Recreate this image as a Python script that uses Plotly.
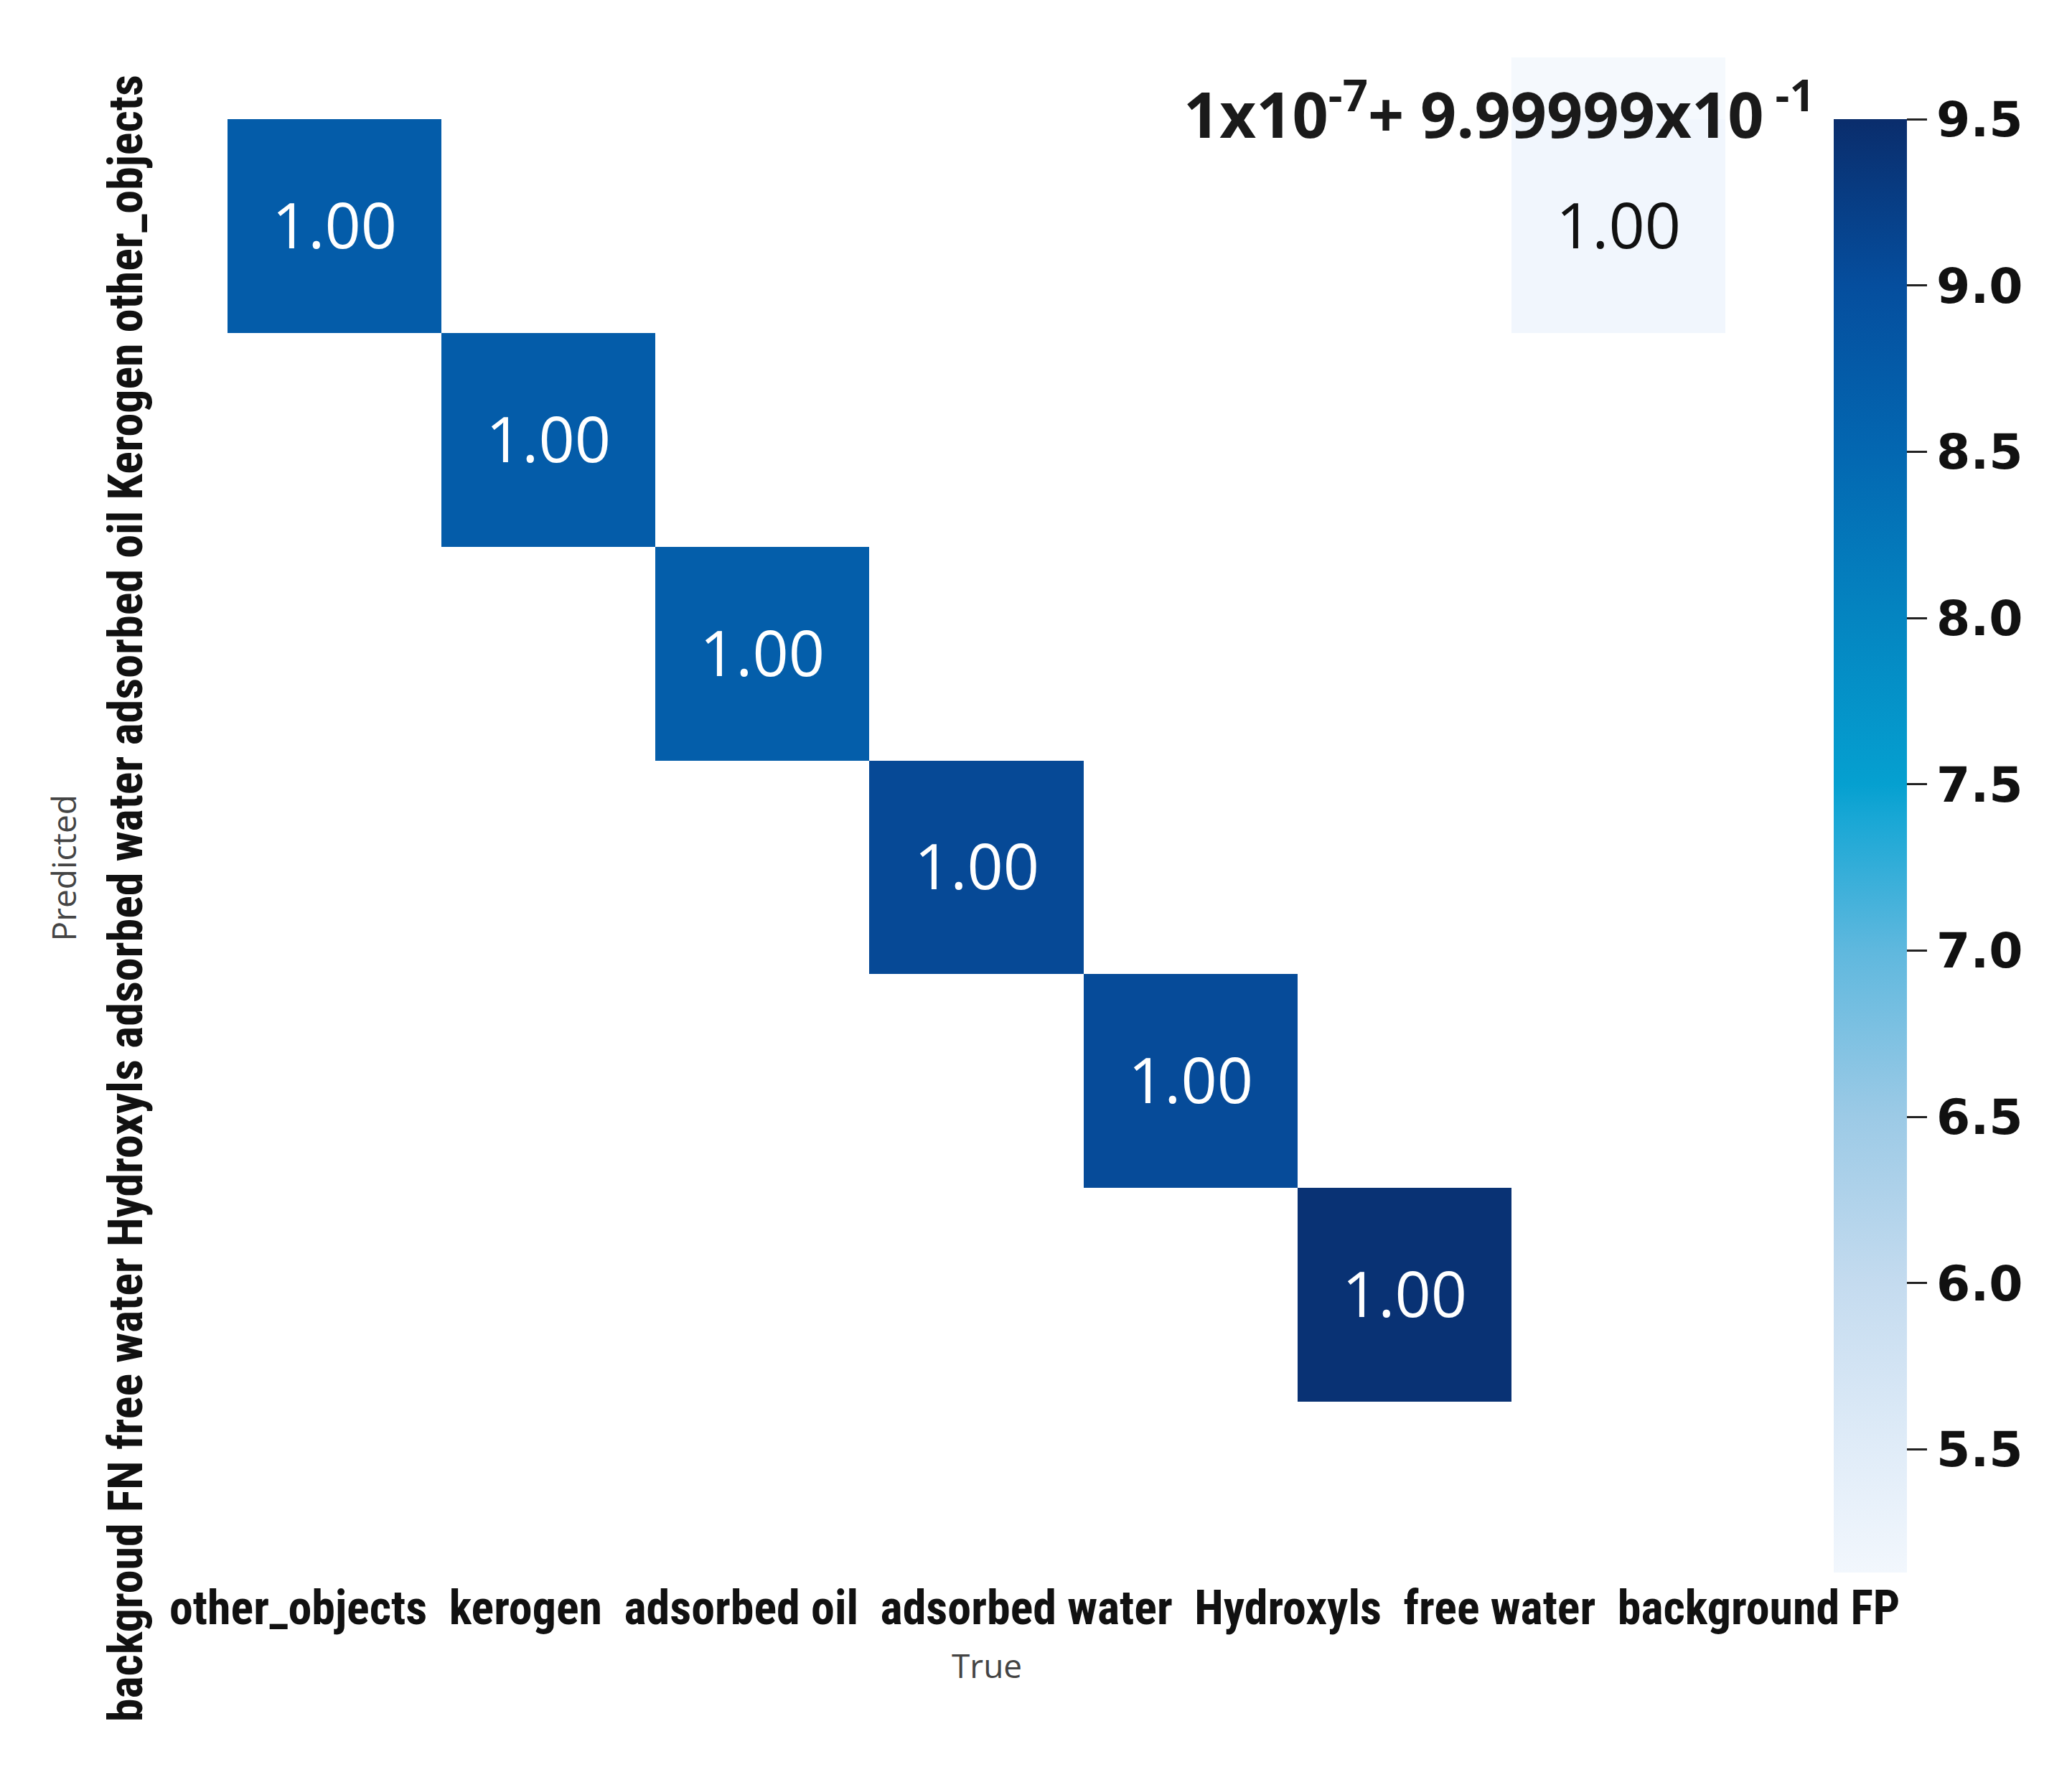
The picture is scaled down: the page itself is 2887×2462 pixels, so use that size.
#
# Confusion matrix heatmap (Predicted vs True)
#

import plotly.graph_objects as go

x_labels = ["other_objects", "kerogen", "adsorbed oil", "adsorbed water",
            "Hydroxyls", "free water", "background FP"]
y_labels = ["other_objects", "Kerogen", "adsorbed oil", "adsorbed water",
            "Hydroxyls", "free water", "backgroud FN"]

# colour value of each diagonal cell and the FP cell
diag_values = [8.72, 8.72, 8.68, 9.08, 9.05, 9.42]
fp_value = 5.15
cell_text = "1.00"

cbar_ticks = [5.5, 6.0, 6.5, 7.0, 7.5, 8.0, 8.5, 9.0, 9.5]
cbar_min, cbar_max = 5.13, 9.5

n = len(x_labels)
z_diag = [[None] * n for _ in range(n)]
t_diag = [[""] * n for _ in range(n)]
for i, v in enumerate(diag_values):
    z_diag[i][i] = v
    t_diag[i][i] = cell_text
z_fp = [[None] * n for _ in range(n)]
t_fp = [[""] * n for _ in range(n)]
z_fp[0][n - 1] = fp_value
t_fp[0][n - 1] = cell_text

stops = [(5.13, "#f2f7fd"), (5.5, "#e0ecf8"), (6.0, "#c4dbef"), (6.5, "#9ccae6"),
         (7.0, "#5fb8de"), (7.4, "#18a7d5"), (7.5, "#05a0d0"), (8.0, "#0485c1"),
         (8.5, "#0367b1"), (9.0, "#054e9e"), (9.5, "#0a2d6c")]
colorscale = [[(v - cbar_min) / (cbar_max - cbar_min), c] for v, c in stops]

fig = go.Figure()
fig.add_trace(go.Heatmap(
    z=z_diag, x=x_labels, y=y_labels, text=t_diag, texttemplate="%{text}",
    textfont=dict(size=88, family="Open Sans", color="white"),
    coloraxis="coloraxis", hoverongaps=False))
fig.add_trace(go.Heatmap(
    z=z_fp, x=x_labels, y=y_labels, text=t_fp, texttemplate="%{text}",
    textfont=dict(size=88, family="Open Sans", color="#111"),
    coloraxis="coloraxis", hoverongaps=False))

label_font = dict(size=66, family="Liberation Sans Narrow, Roboto Condensed, sans-serif",
                  weight="bold", color="#111")

fig.update_layout(
    width=2887, height=2462,
    margin=dict(l=309, r=491, t=158, b=270),
    plot_bgcolor="white", paper_bgcolor="white",
    coloraxis=dict(
        colorscale=colorscale, cmin=cbar_min, cmax=cbar_max,
        colorbar=dict(x=1.0724, xanchor="left", y=1, yanchor="top", len=0.9956,
                      xpad=0, ypad=0,
                      thickness=102, outlinewidth=0, ticks="outside", ticklen=28,
                      tickwidth=3, tickcolor="#222", tickvals=cbar_ticks,
                      tickformat=".1f",
                      tickfont=dict(size=68, family="DejaVu Sans", weight="bold",
                                    color="#111"))),
    xaxis=dict(showticklabels=False, showgrid=False, zeroline=False, ticks="",
               range=[-0.5, 6.5]),
    yaxis=dict(showticklabels=False, showgrid=False, zeroline=False, ticks="",
               range=[6.33, -0.5]),
    shapes=[dict(type="rect", xref="paper", yref="paper", x0=6 / 7, x1=1.0, y0=0.99,
                 y1=1.0423, fillcolor="#f5f9fd", line=dict(width=0), layer="below")],
    annotations=[
        dict(text="  ".join(x_labels), xref="paper", yref="paper", x=0.539, y=-0.0197,
             xanchor="center", yanchor="middle", showarrow=False, font=label_font),
        dict(text=" ".join(reversed(y_labels)), xref="paper", yref="paper", x=-0.068,
             y=0.466, xanchor="center", yanchor="middle", textangle=-90,
             showarrow=False, font=label_font),
        dict(text="True", xref="paper", yref="paper", x=0.507, y=-0.0590,
             xanchor="center", yanchor="middle", showarrow=False,
             font=dict(size=46, family="Open Sans", color="#444")),
        dict(text="Predicted", xref="paper", yref="paper", x=-0.1097, y=0.487,
             xanchor="center", yanchor="middle", textangle=-90, showarrow=False,
             font=dict(size=46, family="Open Sans", color="#444")),
        dict(text="1x10<sup>-7</sup>+ 9.99999x10<sup> -1</sup>", xref="paper",
             yref="paper", x=1.061, y=1.0062, xanchor="right", yanchor="middle",
             showarrow=False,
             font=dict(size=88, family="Open Sans", weight="bold", color="#1a1a1a")),
    ],
)

fig.write_html("out.html")
